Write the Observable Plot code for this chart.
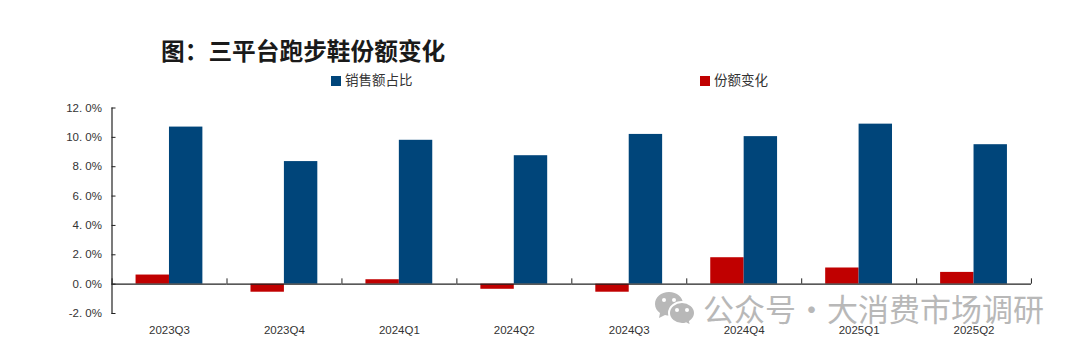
<!DOCTYPE html>
<html><head><meta charset="utf-8">
<script src="https://cdn.jsdelivr.net/npm/d3@7"></script>
<script src="https://cdn.jsdelivr.net/npm/@observablehq/plot@0.6"></script>
<style>
html,body{margin:0;padding:0;background:#fff;overflow:hidden}
#wrap{position:relative;width:1080px;height:353px;font-family:"Liberation Sans","Noto Sans CJK SC",sans-serif}
#head{position:relative;height:95px}
#title{position:absolute;left:161px;top:33px;font:700 23.7px/34px "Noto Sans CJK SC",sans-serif;color:#1a1a1a;white-space:nowrap}
.lg{position:absolute;top:70px;font:13.500px/18px "Noto Sans CJK SC",sans-serif;color:#333;white-space:nowrap}
.lg i{display:inline-block;width:10px;height:10px;margin-right:4px;vertical-align:-0.5px}
#mark{position:absolute;left:654px;top:293px;height:30px;font:31px/30px "Noto Sans CJK SC",sans-serif;color:#b8b8b8;white-space:nowrap;display:flex;align-items:center}
#mark svg{margin-right:7px}
#mark span{display:inline-block;width:31px;text-align:center}
svg{display:block}
</style></head><body>
<div id="wrap">
<div id="head">
<div id="title">图：三平台跑步鞋份额变化</div>
<div class="lg" style="left:331px"><i style="background:#00457a"></i>销售额占比</div>
<div class="lg" style="left:700px"><i style="background:#c00000"></i>份额变化</div>
</div>
<div id="chart"></div>
<div id="mark"><svg width="42" height="34" viewBox="0 0 42 34"><path fill="#b8b8b8" d="M15 1C7 1 1 6 1 13c0 4 2 7 5 9l-1 5 6-3c1.500.4 3 .6 4 .6C23 24.600 29 19 29 13 29 6 23 1 15 1z"/><path fill="#b8b8b8" stroke="#fff" stroke-width="2" d="M28 11c-7 0-13 5-13 11s6 11 13 11c1.500 0 3-.2 4-.6l5 2.600-1-4.500c3-2 5-5 5-8.500 0-6-6-11-13-11z"/><g fill="#fff"><circle cx="10" cy="9" r="2"/><circle cx="20" cy="9" r="2"/><circle cx="23" cy="19" r="2"/><circle cx="33" cy="19" r="2"/></g></svg>公众号<span>·</span>大消费市场调研</div>
</div>
<script>
const quarters = ["2023Q3","2023Q4","2024Q1","2024Q2","2024Q3","2024Q4","2025Q1","2025Q2"];
const shareValues = [10.7,8.35,9.8,8.75,10.2,10.05,10.9,9.5];
const changeValues = [0.62,-0.55,0.3,-0.35,-0.55,1.8,1.1,0.8];
const seriesNames = ["份额变化","销售额占比"];
const seriesColors = ["#c00000","#00457a"];
const yTicks = [-2,0,2,4,6,8,10,12];

const rows = quarters.flatMap((q,i)=>[
  {q, s:seriesNames[0], v:changeValues[i]},
  {q, s:seriesNames[1], v:shareValues[i]}
]);
const axisColor = "#222";
const labelColor = "#333";
const fontFamily = '"Liberation Sans",sans-serif';

const plot = Plot.plot({
  width:1080, height:258,
  marginLeft:111.5, marginRight:49, marginTop:12.5, marginBottom:40,
  style:{fontFamily, fontSize:"11px", color:labelColor, background:"#fff"},
  fx:{domain:quarters, padding:0, round:false, label:null},
  x:{domain:seriesNames, paddingInner:0, paddingOuter:0.72, round:false, axis:null, label:null},
  y:{domain:[-2,12], label:null, axis:null},
  color:{domain:seriesNames, range:seriesColors},
  marks:[
    Plot.barY(rows,{fx:"q",x:"s",y:"v",fill:"s"}),
    Plot.ruleY(quarters,{fx:d=>d,y:()=>0,stroke:axisColor,strokeWidth:1.2}),
    Plot.frame({anchor:"left",facet:"super",stroke:axisColor,strokeWidth:1.2}),
    Plot.axisY({ticks:yTicks,tickSize:0,tickPadding:10,tickFormat:d=>d.toFixed(1).replace(".",". ")+"%",fill:labelColor,label:null,fontSize:11.5}),
    Plot.axisY({ticks:yTicks,tickSize:-4,text:null,stroke:axisColor,label:null}),
    Plot.axisFx({anchor:"bottom",tickSize:0,tickPadding:12,fill:labelColor,label:null,fontSize:11.5}),
    Plot.ruleX(quarters,{fx:d=>d,x:()=>seriesNames[0],dx:-40.7,y1:0,y2:0.36,stroke:axisColor}),
    Plot.ruleX(quarters.slice(-1),{fx:d=>d,x:()=>seriesNames[1],dx:40.7,y1:0,y2:0.36,stroke:axisColor})
  ]
});
document.getElementById("chart").appendChild(plot);
</script>
</body></html>
